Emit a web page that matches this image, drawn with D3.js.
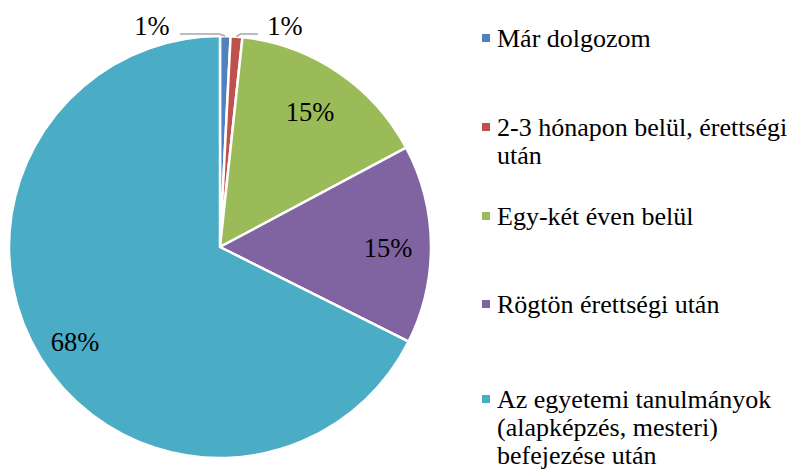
<!DOCTYPE html>
<html>
<head>
<meta charset="utf-8">
<script src="https://cdn.jsdelivr.net/npm/d3@7"></script>
<style>
  body { margin: 0; background: #fff; }
</style>
</head>
<body>
<svg id="pie" width="797" height="471"></svg>
<script>
// Data
const categories = [
    "Már dolgozom",
    "2-3 hónapon belül, érettségi után",
    "Egy-két éven belül",
    "Rögtön érettségi után",
    "Az egyetemi tanulmányok (alapképzés, mesteri) befejezése után"
];
const values = [0.8, 0.9, 15.5, 15.2, 67.6];
const labels = ["1%", "1%", "15%", "15%", "68%"];
const legendLines = [
    ["Már dolgozom"],
    ["2-3 hónapon belül, érettségi", "után"],
    ["Egy-két éven belül"],
    ["Rögtön érettségi után"],
    ["Az egyetemi tanulmányok", "(alapképzés, mesteri)", "befejezése után"]
];
const colors = ["#4F81BD", "#C0504D", "#9BBB59", "#8064A2", "#4BACC6"];

const font = "'Liberation Serif', 'Times New Roman', 'DejaVu Serif', serif";
const svg = d3.select("#pie").attr("font-family", font);
const cx = 220, cy = 247, r = 211;

const pie = d3.pie().sort(null).value(d => d);
const arcs = pie(values);
const arc = d3.arc().innerRadius(0).outerRadius(r);

const g = svg.append("g").attr("transform", "translate(" + cx + "," + cy + ")");

g.selectAll("path")
  .data(arcs)
  .enter().append("path")
    .attr("d", arc)
    .attr("fill", (d, i) => colors[i])
    .attr("stroke", "#fff")
    .attr("stroke-width", 2.5);

// inside labels for the big slices
const insidePos = { 2: [90, -135], 3: [168, 1], 4: [-145, 95] };
g.selectAll(".inside")
  .data(arcs.filter((d, i) => i >= 2))
  .enter().append("text")
    .attr("class", "inside")
    .attr("x", d => insidePos[d.index][0])
    .attr("y", d => insidePos[d.index][1])
    .attr("text-anchor", "middle")
    .attr("dominant-baseline", "central")
    .attr("font-family", font)
    .attr("font-size", 26.5)
    .text(d => labels[d.index]);

// outside labels with leader lines for the tiny slices
const edgeArc = d3.arc().innerRadius(r - 2).outerRadius(r - 2);
const outside = [
    { i: 0, tx: -68, ty: -221, lx: -40 },
    { i: 1, tx: 65, ty: -221, lx: 38 }
];
outside.forEach(o => {
    const p = edgeArc.centroid(arcs[o.i]);
    g.append("polyline")
      .attr("points", [[p[0], p[1] - 2], [p[0] + (o.lx > 0 ? 4 : -6), -213], [o.lx, -213]].map(q => q.join(",")).join(" "))
      .attr("fill", "none")
      .attr("stroke", "#a6a6a6")
      .attr("stroke-width", 1.5);
    g.append("text")
      .attr("x", o.tx)
      .attr("y", o.ty)
      .attr("text-anchor", "middle")
      .attr("dominant-baseline", "central")
      .attr("font-family", font)
      .attr("font-size", 26.5)
      .text(labels[o.i]);
});

// Legend
const legendBase = [47, 136, 225, 313, 408];
const legend = svg.append("g");
legendLines.forEach((lines, i) => {
    legend.append("rect")
      .attr("x", 482)
      .attr("y", legendBase[i] - 13)
      .attr("width", 8)
      .attr("height", 8)
      .attr("fill", colors[i]);
    const t = legend.append("text")
      .attr("x", 497)
      .attr("y", legendBase[i])
      .attr("font-family", font)
      .attr("font-size", 26)
      .attr("fill", "#000");
    lines.forEach((l, k) => {
        t.append("tspan")
          .attr("x", 497)
          .attr("dy", k === 0 ? 0 : 28)
          .text(l);
    });
});
</script>
</body>
</html>
